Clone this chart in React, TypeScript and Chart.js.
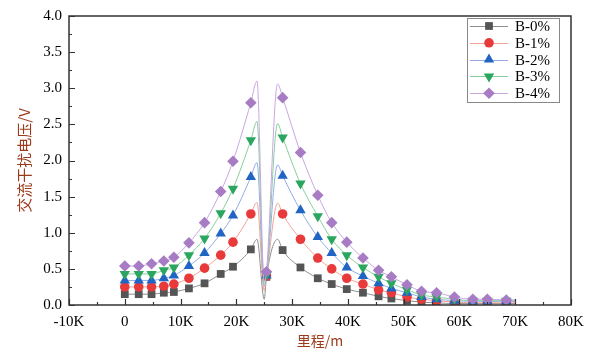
import React, { useEffect, useRef } from 'react';
import { Chart, registerables } from 'chart.js';
Chart.register(...registerables);

// ---- data (mileage in metres, voltage in V) ----
const seriesNames = ['B-0%', 'B-1%', 'B-2%', 'B-3%', 'B-4%'];
const mileage = [0, 2500, 4800, 7000, 8800, 11500, 14300, 17200, 19400, 22600, 25400, 28300, 31500, 34600, 37100, 39800, 42700, 45500, 47800, 50600, 53200, 55900, 59100, 62400, 65000, 68400];
const b0 = [0.15, 0.15, 0.15, 0.17, 0.18, 0.23, 0.30, 0.43, 0.53, 0.77, 0.39, 0.76, 0.52, 0.37, 0.29, 0.22, 0.17, 0.12, 0.09, 0.06, 0.04, 0.03, 0.02, 0.02, 0.02, 0.02];
const b1 = [0.25, 0.25, 0.25, 0.26, 0.29, 0.37, 0.51, 0.69, 0.87, 1.26, 0.40, 1.26, 0.91, 0.65, 0.50, 0.37, 0.29, 0.21, 0.17, 0.11, 0.08, 0.06, 0.04, 0.03, 0.03, 0.03];
const b2 = [0.34, 0.34, 0.34, 0.37, 0.41, 0.54, 0.72, 0.99, 1.24, 1.77, 0.41, 1.79, 1.31, 0.94, 0.72, 0.52, 0.40, 0.30, 0.23, 0.17, 0.11, 0.08, 0.06, 0.05, 0.05, 0.05];
const b3 = [0.43, 0.43, 0.43, 0.48, 0.52, 0.69, 0.92, 1.27, 1.61, 2.28, 0.42, 2.32, 1.68, 1.23, 0.91, 0.69, 0.52, 0.39, 0.30, 0.21, 0.14, 0.11, 0.08, 0.06, 0.06, 0.06];
const b4 = [0.54, 0.54, 0.57, 0.61, 0.66, 0.86, 1.14, 1.57, 1.99, 2.80, 0.46, 2.87, 2.11, 1.52, 1.14, 0.87, 0.65, 0.48, 0.39, 0.28, 0.19, 0.17, 0.11, 0.08, 0.08, 0.07];
// line-only points (curve peaks / dip / end) without markers
const peakLeftX = 23700;
const dipX = 25000;
const peakRightX = 27400;
const endX = 70000;
const peakLeft = [0.91, 1.42, 1.97, 2.54, 3.10];
const dipVals = [0.08, 0.20, 0.26, 0.30, 0.33];
const peakRight = [0.91, 1.41, 1.94, 2.51, 3.06];
const endVals = [0.02, 0.03, 0.05, 0.06, 0.07];
const allSeries = [b0, b1, b2, b3, b4];

// ---- styles ----
const lineColors = ['#8e8e8e', '#f2a393', '#93aae6', '#86cf9c', '#c9a6e0'];
const markerColors = ['#555555', '#e8393b', '#2064c4', '#2aa65e', '#a77cc4'];
const markerShapes = ['rect', 'circle', 'triangle', 'triangleDown', 'diamond'];
const markerRadius = [5.5, 4.8, 6, 6, 5.8];
const TITLE_COLOR = '#9b3b1b';
const SERIF = '"Liberation Serif", "Times New Roman", serif';
const CJK = '"Noto Sans CJK SC", sans-serif';

function buildPoints(i: number) {
  const pts = mileage.map((x, k) => ({ x, y: allSeries[i][k], m: true }));
  pts.push({ x: peakLeftX, y: peakLeft[i], m: false });
  pts.push({ x: dipX, y: dipVals[i], m: false });
  pts.push({ x: peakRightX, y: peakRight[i], m: false });
  pts.push({ x: endX, y: endVals[i], m: false });
  pts.sort((a, b) => a.x - b.x);
  return pts;
}

function chartPointStyle(i: number) {
  const s = markerShapes[i];
  if (s === 'diamond') return 'rectRot';
  if (s === 'triangleDown') return 'triangle';
  return s;
}

function drawMarker(ctx: CanvasRenderingContext2D, shape: string, x: number, y: number, r: number, color: string) {
  ctx.save();
  ctx.fillStyle = color;
  ctx.beginPath();
  if (shape === 'rect') {
    const s = r * Math.SQRT1_2;
    ctx.rect(x - s, y - s, 2 * s, 2 * s);
  } else if (shape === 'circle') {
    ctx.arc(x, y, r, 0, Math.PI * 2);
  } else if (shape === 'triangle' || shape === 'triangleDown') {
    const d = shape === 'triangle' ? 1 : -1;
    ctx.moveTo(x, y - d * r);
    ctx.lineTo(x + r * 0.866, y + d * r * 0.5);
    ctx.lineTo(x - r * 0.866, y + d * r * 0.5);
    ctx.closePath();
  } else {
    ctx.moveTo(x, y - r);
    ctx.lineTo(x + r, y);
    ctx.lineTo(x, y + r);
    ctx.lineTo(x - r, y);
    ctx.closePath();
  }
  ctx.fill();
  ctx.restore();
}

const framePlugin = {
  id: 'frameTicks',
  afterDatasetsDraw(chart: any) {
    const { ctx, chartArea: a, scales } = chart;
    const xs = scales.x;
    const ys = scales.y;
    ctx.save();
    ctx.strokeStyle = '#333';
    ctx.lineWidth = 1.5;
    ctx.strokeRect(a.left, a.top, a.right - a.left, a.bottom - a.top);
    ctx.lineWidth = 1.2;
    ctx.beginPath();
    for (let v = xs.min; v <= xs.max + 1; v += 5000) {
      const px = Math.round(xs.getPixelForValue(v)) + 0.5;
      const len = (v % 10000 === 0) ? 6 : 3;
      ctx.moveTo(px, a.bottom);
      ctx.lineTo(px, a.bottom - len);
    }
    for (let k = 0; k <= 16; k++) {
      const v = k * 0.25;
      const py = Math.round(ys.getPixelForValue(v)) + 0.5;
      const len = k % 2 === 0 ? 6 : 3;
      ctx.moveTo(a.left, py);
      ctx.lineTo(a.left + len, py);
    }
    ctx.stroke();
    ctx.restore();
  },
  afterDraw(chart: any) {
    const { ctx } = chart;
    const boxL = 467, boxT = 18, boxR = 559, boxB = 102;
    ctx.save();
    ctx.fillStyle = '#fff';
    ctx.fillRect(boxL, boxT, boxR - boxL, boxB - boxT);
    ctx.strokeStyle = '#888';
    ctx.lineWidth = 1;
    ctx.strokeRect(boxL + 0.5, boxT + 0.5, boxR - boxL, boxB - boxT);
    ctx.font = '15px ' + SERIF;
    ctx.textBaseline = 'middle';
    ctx.textAlign = 'left';
    seriesNames.forEach((name, i) => {
      const y = 26 + i * 16.8;
      ctx.strokeStyle = lineColors[i];
      ctx.lineWidth = 1;
      ctx.beginPath();
      ctx.moveTo(470, Math.round(y) + 0.5);
      ctx.lineTo(508, Math.round(y) + 0.5);
      ctx.stroke();
      drawMarker(ctx, markerShapes[i], 489, y, markerRadius[i], markerColors[i]);
      ctx.fillStyle = '#000';
      ctx.fillText(name, 515, y + 1);
    });
    ctx.restore();
  },
};

export default function App() {
  const ref = useRef<HTMLCanvasElement>(null);
  useEffect(() => {
    const datasets = seriesNames.map((name, i) => ({
      label: name,
      data: buildPoints(i),
      borderColor: lineColors[i],
      borderWidth: 1,
      backgroundColor: markerColors[i],
      pointBackgroundColor: markerColors[i],
      pointBorderColor: markerColors[i],
      pointBorderWidth: 0,
      pointStyle: chartPointStyle(i),
      pointRotation: markerShapes[i] === 'triangleDown' ? 180 : 0,
      pointRadius: (c: any) => (c.raw && c.raw.m ? markerRadius[i] : 0),
      cubicInterpolationMode: 'monotone' as const,
      fill: false,
      order: seriesNames.length - i,
    }));
    const chart = new Chart(ref.current!, {
      type: 'line',
      data: { datasets },
      options: {
        animation: false,
        responsive: false,
        maintainAspectRatio: false,
        layout: { padding: { left: 0, right: 27, top: 15, bottom: 0 } },
        plugins: { legend: { display: false }, tooltip: { enabled: false } },
        scales: {
          x: {
            type: 'linear',
            min: -10000,
            max: 80000,
            grid: { display: false, drawTicks: false },
            border: { display: false },
            ticks: {
              stepSize: 10000,
              autoSkip: false,
              maxRotation: 0,
              padding: 8,
              color: '#000',
              font: { family: SERIF, size: 15 },
              callback: (v: any) => (v === 0 ? '0' : `${v / 1000}K`),
            },
            title: {
              display: true,
              text: '里程/m',
              color: TITLE_COLOR,
              font: { family: CJK, size: 14 },
              padding: { top: 0, bottom: 6 },
            },
            afterFit: (s: any) => { s.height = 50; },
          },
          y: {
            type: 'linear',
            min: 0,
            max: 4,
            grid: { display: false, drawTicks: false },
            border: { display: false },
            ticks: {
              stepSize: 0.5,
              padding: 7,
              color: '#000',
              font: { family: SERIF, size: 15 },
              callback: (v: any) => Number(v).toFixed(1),
            },
            title: {
              display: true,
              text: '交流干扰电压/V',
              color: TITLE_COLOR,
              font: { family: CJK, size: 15 },
              padding: { top: 15, bottom: 0 },
            },
            afterFit: (s: any) => { s.width = 69; },
          },
        },
      },
      plugins: [framePlugin],
    });
    return () => chart.destroy();
  }, []);
  return (
    <div style={{ position: 'fixed', left: 0, top: 0, width: 598, height: 355, background: '#fff' }}>
      <canvas ref={ref} width={598} height={355} style={{ width: 598, height: 355, display: 'block' }} />
    </div>
  );
}
